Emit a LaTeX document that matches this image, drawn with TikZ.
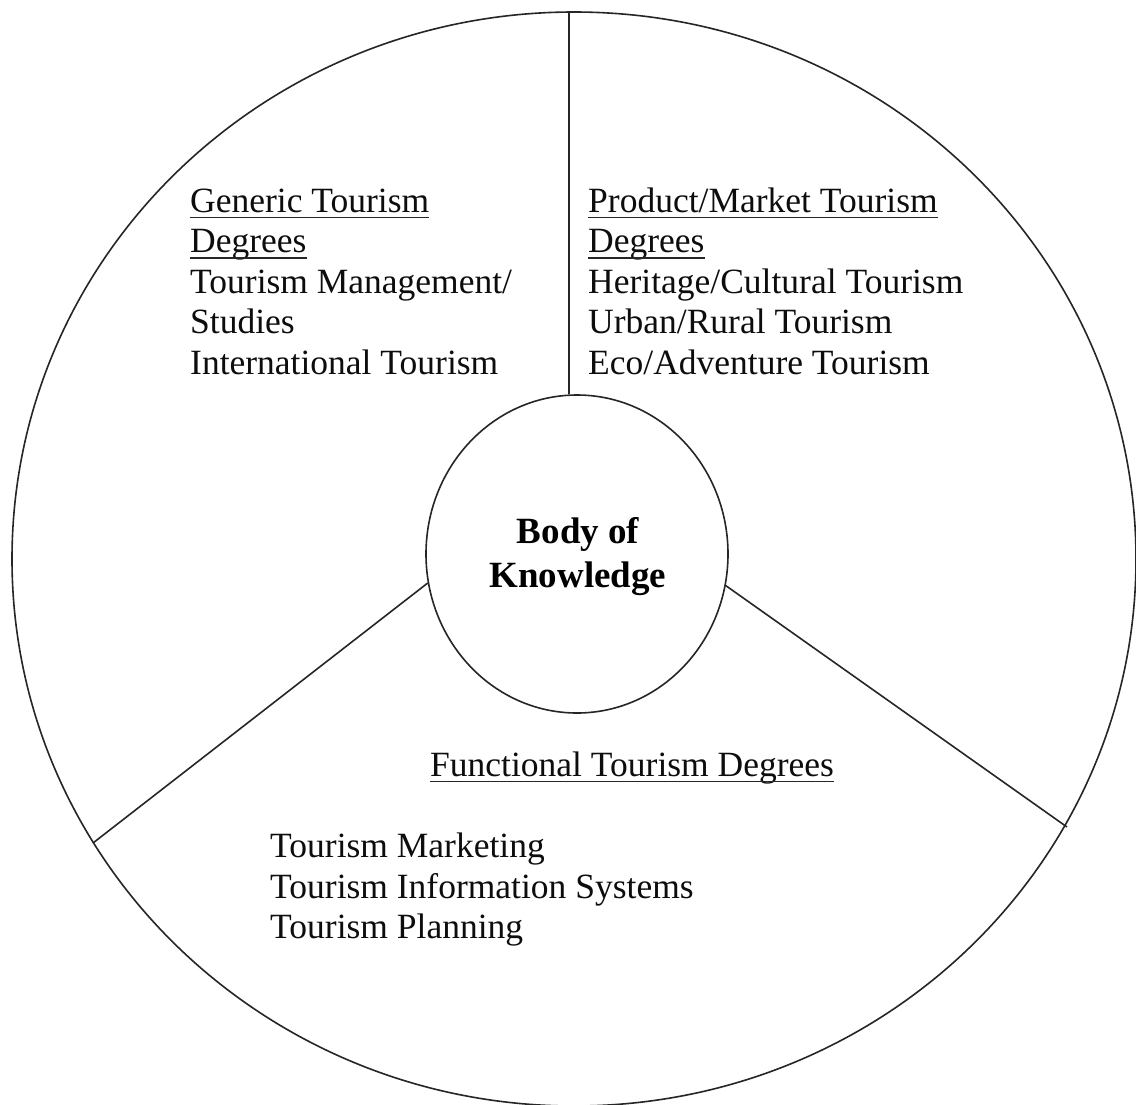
\documentclass[tikz,border=0pt]{standalone}
\usepackage{fontspec}
\setmainfont{Liberation Serif}
\usetikzlibrary{shapes.geometric}
\begin{document}
\begin{tikzpicture}[x=1pt,y=-1pt,
  txt/.style={anchor=base west, inner sep=0pt, font=\fontsize{35.5}{40.5}\selectfont, text=black!95},
  boldtxt/.style={anchor=base, inner sep=0pt, font=\fontsize{37}{44}\selectfont\bfseries, text=black},
  rim/.style={draw=black!85, line width=1.6pt},
  uline/.style={draw=black!85, line width=1.5pt}]
\useasboundingbox (0,0) rectangle (1136,1104);
\fill[white] (0,0) rectangle (1136,1104);
\begin{scope}
\clip (0,0) rectangle (1136,1104);
\draw[rim] (574,559) ellipse [x radius=562, y radius=547];
\end{scope}
% centre
\node[ellipse, rim, minimum width=302pt, minimum height=318pt, inner sep=0pt] (bok) at (577,554) {};
\node[boldtxt] (bok1) at (578,543) {Body of};
\node[boldtxt] (bok2) at (578,587) {Knowledge};
% dividers
\coordinate (top) at (569,12);
\coordinate (L) at (93,843);
\coordinate (R) at (1067,827);
\draw[rim] (top) -- (top |- bok.north);
\draw[rim] (bok.191) -- (L);
\draw[rim] (bok.348) -- (R);
% left block
\node[txt] (g1) at (190,212) {Generic Tourism};
\node[txt] (g2) at (190,252.5) {Degrees};
\node[txt] (g3) at (190,293) {Tourism Management/};
\node[txt] (g4) at (190,333.5) {Studies};
\node[txt] (g5) at (190,374) {International Tourism};
% right block
\node[txt] (p1) at (588,212) {Product/Market Tourism};
\node[txt] (p2) at (588,252.5) {Degrees};
\node[txt] (p3) at (588,293) {Heritage/Cultural Tourism};
\node[txt] (p4) at (588,333.5) {Urban/Rural Tourism};
\node[txt] (p5) at (588,374) {Eco/Adventure Tourism};
% bottom block
\node[txt] (f0) at (430,776) {Functional Tourism Degrees};
\node[txt] (f1) at (270,857) {Tourism Marketing};
\node[txt] (f2) at (270,898) {Tourism Information Systems};
\node[txt] (f3) at (270,938) {Tourism Planning};
% underlines
\foreach \n in {g1,g2,p1,p2,f0}
  \draw[uline] ([yshift=-5.5pt]\n.base west) -- ([yshift=-5.5pt]\n.base east);
\end{tikzpicture}
\end{document}
